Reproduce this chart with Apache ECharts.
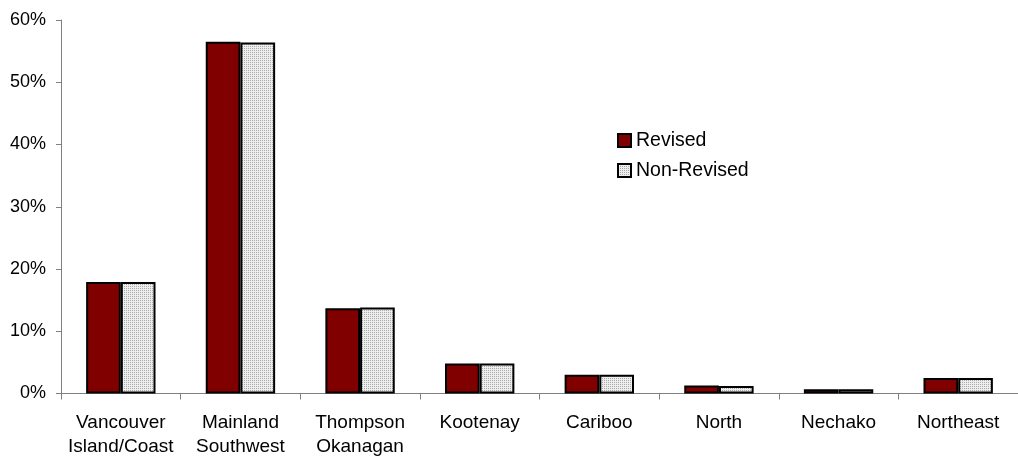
<!DOCTYPE html>
<html>
<head>
<meta charset="utf-8">
<script src="https://cdn.jsdelivr.net/npm/echarts@6/dist/echarts.min.js"></script>
<style>
  html, body { margin: 0; padding: 0; background: #fff; }
  #chart { width: 1018px; height: 459px; }
</style>
</head>
<body>
<div id="chart"></div>
<script>
// Regional shares, in percent
const regions = [
  'Vancouver\nIsland/Coast', 'Mainland\nSouthwest', 'Thompson\nOkanagan',
  'Kootenay', 'Cariboo', 'North', 'Nechako', 'Northeast'
];
const revised    = [17.9, 56.5, 13.7, 4.8, 3.0, 1.3, 0.7, 2.5];
const nonRevised = [17.9, 56.4, 13.8, 4.8, 3.0, 1.2, 0.7, 2.5];
const yTicks = [0, 10, 20, 30, 40, 50, 60];

// Fine dotted fill for the second series
function dotPattern() {
  const c = document.createElement('canvas');
  c.width = 2; c.height = 2;
  const g = c.getContext('2d');
  g.fillStyle = '#eeeeee'; g.fillRect(0, 0, 2, 2);
  g.fillStyle = '#a9a9a9';
  g.fillRect(0, 0, 1, 1);
  return c;
}

const FONT = '"Liberation Sans", Arial, sans-serif';
const chart = echarts.init(document.getElementById('chart'), null, { renderer: 'canvas' });

chart.setOption({
  animation: false,
  grid: { left: 61, top: 20, width: 960, bottom: 63.5, containLabel: false },
  legend: {
    orient: 'vertical',
    left: 617,
    top: 130,
    padding: 0,
    icon: 'rect',
    itemWidth: 13,
    itemHeight: 13,
    itemGap: 9,
    textStyle: { fontFamily: FONT, fontSize: 19.5, color: '#000', lineHeight: 21, padding: 0 },
    data: ['Revised', 'Non-Revised']
  },
  xAxis: {
    type: 'category',
    data: regions,
    axisLine: { lineStyle: { color: '#808080', width: 1 } },
    axisTick: { show: true, length: 6, lineStyle: { color: '#808080' } },
    axisLabel: {
      interval: 0, margin: 17.5,
      fontFamily: FONT, fontSize: 19, lineHeight: 24, color: '#000'
    },
    splitLine: { show: false }
  },
  yAxis: {
    type: 'value',
    min: yTicks[0],
    max: yTicks[yTicks.length - 1],
    interval: yTicks[1] - yTicks[0],
    axisLine: { show: true, lineStyle: { color: '#808080', width: 1 } },
    axisTick: { show: true, length: 5, lineStyle: { color: '#808080' } },
    axisLabel: {
      formatter: '{value}%', margin: 15,
      fontFamily: FONT, fontSize: 18, color: '#000'
    },
    splitLine: { show: false }
  },
  series: [
    {
      name: 'Revised',
      type: 'bar',
      data: revised,
      barGap: '0%',
      barCategoryGap: '42%',
      itemStyle: { color: '#800000', borderColor: '#000', borderWidth: 2 }
    },
    {
      name: 'Non-Revised',
      type: 'bar',
      data: nonRevised,
      itemStyle: {
        color: { image: dotPattern(), repeat: 'repeat' },
        borderColor: '#000', borderWidth: 2
      }
    }
  ]
});
</script>
</body>
</html>
